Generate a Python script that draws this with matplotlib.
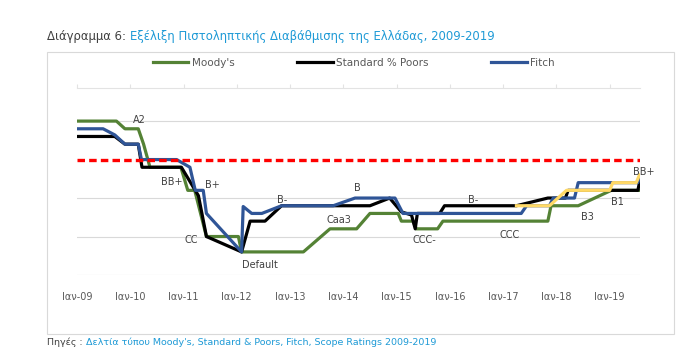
import matplotlib
matplotlib.use("Agg")
import matplotlib.pyplot as plt
from matplotlib.patches import Rectangle

plt.rcParams['font.family'] = ['DejaVu Sans']
plt.rcParams['lines.scale_dashes'] = False

# ratings on a notch scale (Default ~ 3, A2 ~ 20)
moodys_x = [2009.00, 2009.74, 2009.90, 2010.15, 2010.25, 2010.37, 2010.95, 2011.08, 2011.21,
            2011.43, 2012.03, 2012.09, 2013.25, 2013.75, 2014.25, 2014.50, 2015.03, 2015.09,
            2015.31, 2015.37, 2015.77, 2015.87, 2017.84, 2017.90, 2018.41, 2019.03, 2019.56]
moodys_y = [20, 20, 19, 19, 17, 14, 14, 11, 11,
            5, 5, 3, 3, 6, 6, 8, 8, 7,
            7, 6, 6, 7, 7, 9, 9, 11, 11]

sp_x = [2009.00, 2009.71, 2009.90, 2010.15, 2010.22, 2010.96, 2011.28, 2011.43, 2012.09,
        2012.25, 2012.53, 2012.84, 2014.50, 2014.87, 2015.09, 2015.28, 2015.35, 2015.39,
        2015.81, 2015.90, 2017.25, 2017.84, 2018.17, 2018.22, 2019.53, 2019.56]
sp_y = [18, 18, 17, 17, 14, 14, 10.3, 5, 3,
        7, 7, 9, 9, 10, 8.2, 7.8, 6, 8,
        8, 9, 9, 10, 10, 11, 11, 12]

fitch_x = [2009.00, 2009.49, 2009.71, 2009.90, 2010.15, 2010.21, 2010.87, 2011.12, 2011.22,
           2011.37, 2011.43, 2012.09, 2012.12, 2012.28, 2012.47, 2012.84, 2013.81, 2014.22,
           2014.97, 2015.12, 2017.34, 2017.44, 2017.87, 2017.94, 2018.34, 2018.41, 2019.53,
           2019.56]
fitch_y = [19, 19, 18.2, 17, 17, 15, 15, 14, 11,
           11, 8, 3, 8.9, 8, 8, 9, 9, 10,
           10, 8, 8, 9, 9, 10, 10, 12, 12,
           12.7]

scope_x = [2017.25, 2017.87, 2018.19, 2019.00, 2019.06, 2019.50, 2019.56]
scope_y = [9, 9, 11, 11, 12, 12, 13]

threshold = 15

year_ticks = list(range(2009, 2020))
year_labels = ['Ιαν-09', 'Ιαν-10', 'Ιαν-11', 'Ιαν-12', 'Ιαν-13', 'Ιαν-14',
               'Ιαν-15', 'Ιαν-16', 'Ιαν-17', 'Ιαν-18', 'Ιαν-19']

note_text = ['A2', 'BB+', 'B+', 'CC', 'Default', 'B-', 'B', 'Caa3', 'CCC-', 'B-', 'CCC', 'B3', 'B1', 'BB+']
note_x = [2010.18, 2010.78, 2011.55, 2011.14, 2012.43, 2012.86, 2014.27, 2013.92, 2015.53,
          2016.43, 2017.12, 2018.59, 2019.15, 2019.64]
note_y = [20.1, 12.1, 11.7, 4.5, 1.3, 9.7, 11.3, 7.1, 4.5, 9.7, 5.2, 7.5, 9.5, 13.4]

W, H = 680, 353
fig = plt.figure(figsize=(W / 100, H / 100), dpi=100)

# chart frame
fig.add_artist(Rectangle((47 / W, 1 - 334 / H), 627 / W, 282 / H, transform=fig.transFigure,
                         fill=False, edgecolor='#d9d9d9', lw=0.8))

ax = fig.add_axes([77 / W, 1 - 275 / H, 563 / W, 187 / H])

green = '#548235'
blue = '#2f5597'
ax.plot(moodys_x, moodys_y, color=green, lw=2.3, label="Moody's", solid_joinstyle='round')
ax.plot(sp_x, sp_y, color='black', lw=2.3, label='Standard % Poors', solid_joinstyle='round')
ax.plot(fitch_x, fitch_y, color=blue, lw=2.3, label='Fitch', solid_joinstyle='round')
ax.plot(scope_x, scope_y, color='#ffd966', lw=2.3, solid_joinstyle='round')
ax.axhline(threshold, color='#ff0000', lw=2.4, dashes=(5.4, 3.0), zorder=5)

for t, x, y in zip(note_text, note_x, note_y):
    ax.text(x, y, t, ha='center', va='center', fontsize=7, color='#404040', clip_on=False)

ax.set_xlim(2009.0, 2019.57)
ax.set_ylim(0, 24.3)
ax.set_yticks([0, 5, 10, 20])
ax.grid(axis='y', color='#d9d9d9', lw=0.8)
ax.set_axisbelow(True)
ax.tick_params(axis='y', left=False, labelleft=False)
ax.set_xticks(year_ticks)
ax.set_xticklabels(year_labels)
ax.tick_params(axis='x', top=True, bottom=False, labeltop=False, labelbottom=True,
               direction='out', length=3, color='#e3e3e3', labelsize=7, labelcolor='#595959', pad=9)
for s in ['left', 'right', 'bottom']:
    ax.spines[s].set_visible(False)
ax.spines['top'].set_color('#e3e3e3')
ax.spines['top'].set_linewidth(0.8)

fig.legend(loc='center', bbox_to_anchor=(354 / W, 1 - 63 / H), ncol=3, frameon=False,
           fontsize=7.5, handlelength=3.4, handletextpad=0.35, columnspacing=6.0,
           labelcolor='#595959')

# title and source line
t1 = fig.text(47 / W, 1 - 40 / H, 'Διάγραμμα 6:', fontsize=8.4, color='#404040', va='baseline')
t3 = fig.text(47 / W, 1 - 345 / H, 'Πηγές :', fontsize=6.8, color='#404040', va='baseline')
fig.canvas.draw()
r = fig.canvas.get_renderer()
b1 = t1.get_window_extent(r)
b3 = t3.get_window_extent(r)
fig.text((b1.x1 + 4) / W, 1 - 40 / H, 'Εξέλιξη Πιστοληπτικής Διαβάθμισης της Ελλάδας, 2009-2019',
         fontsize=8.4, color='#1e9ad6', va='baseline')
fig.text((b3.x1 + 3) / W, 1 - 345 / H,
         "Δελτία τύπου Moody's, Standard & Poors, Fitch, Scope Ratings 2009-2019",
         fontsize=6.8, color='#1e9ad6', va='baseline')

fig.savefig('out.png', dpi=100)
